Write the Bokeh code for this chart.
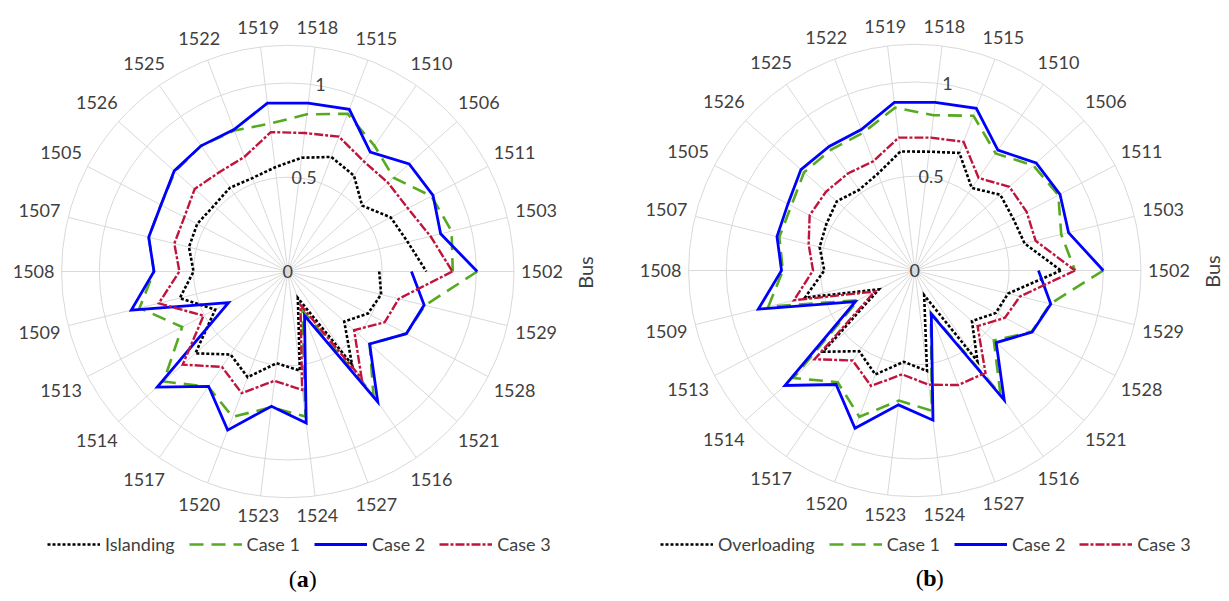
import math
from bokeh.plotting import figure
from bokeh.models import Range1d, Legend, LegendItem
from bokeh.core.properties import value
from bokeh.embed import file_html
from bokeh.resources import INLINE

# ---------------- data ----------------
# categories, clockwise starting at 1502 (3 o'clock)
buses = ["1502", "1529", "1528", "1521", "1516", "1527", "1524", "1523", "1520",
         "1517", "1514", "1513", "1509", "1508", "1507", "1505", "1526", "1525",
         "1522", "1519", "1518", "1515", "1510", "1506", "1511", "1503"]
# each trace: value at every bus in the order above, then the value where the
# trace comes back to bus 1502
islanding = [0.485, 0.51, 0.48, 0.40, 0.60, 0.15, 0.53, 0.49, 0.60, 0.535, 0.655, 0.435, 0.59,
             0.50, 0.54, 0.543, 0.525, 0.54, 0.53, 0.557, 0.608, 0.65, 0.618, 0.527, 0.617, 0.655, 0.735]
a_case1 = [1.005, 0.75, 0.71, 0.58, 0.80, 0.22, 0.775, 0.725, 0.825, 0.743, 0.88, 0.633, 0.81,
           0.71, 0.76, 0.76, 0.80, 0.81, 0.80, 0.79, 0.84, 0.895, 0.81, 0.75, 0.86, 0.895, 0.875]
a_case2 = [0.656, 0.745, 0.71, 0.58, 0.84, 0.25, 0.81, 0.72, 0.90, 0.74, 0.925, 0.355, 0.855,
           0.71, 0.76, 0.76, 0.805, 0.81, 0.805, 0.90, 0.90, 0.92, 0.77, 0.86, 0.87, 0.835, 1.005]
a_case3 = [0.873, 0.606, 0.58, 0.47, 0.69, 0.19, 0.633, 0.584, 0.69, 0.615, 0.745, 0.505, 0.705,
           0.575, 0.62, 0.62, 0.66, 0.64, 0.65, 0.745, 0.74, 0.765, 0.71, 0.71, 0.72, 0.78, 0.873]

overloading = [0.775, 0.51, 0.485, 0.405, 0.585, 0.14, 0.537, 0.488, 0.59, 0.52, 0.65, 0.215, 0.60,
               0.48, 0.52, 0.53, 0.553, 0.52, 0.55, 0.636, 0.635, 0.667, 0.532, 0.606, 0.59, 0.60, 0.775]
b_case1 = [1.0, 0.74, 0.70, 0.56, 0.80, 0.24, 0.75, 0.695, 0.83, 0.72, 0.86, 0.34, 0.80,
           0.70, 0.74, 0.74, 0.785, 0.78, 0.78, 0.87, 0.83, 0.878, 0.755, 0.84, 0.86, 0.80, 0.85]
b_case2 = [0.656, 0.743, 0.703, 0.577, 0.835, 0.247, 0.80, 0.718, 0.895, 0.735, 0.92, 0.356, 0.855,
           0.707, 0.753, 0.76, 0.807, 0.80, 0.80, 0.898, 0.898, 0.92, 0.776, 0.86, 0.87, 0.84, 1.0]
b_case3 = [0.85, 0.575, 0.54, 0.445, 0.66, 0.65, 0.61, 0.555, 0.655, 0.58, 0.71, 0.24, 0.66,
           0.54, 0.58, 0.63, 0.63, 0.625, 0.62, 0.71, 0.71, 0.73, 0.596, 0.67, 0.67, 0.66, 0.85]

value_ticks = [0, 0.5, 1]
value_tick_labels = ["0", "0.5", "1"]
ring_values = [0.5, 1.0, 1.2]
r_max = 1.2
axis_title = "Bus"

# ---------------- layout / style ----------------
W, H = 1226, 598
PX = 188.5            # pixels per unit value
FONT = "Lato"
TXT = "#404040"
GRID = "#d9d9d9"
styles = [
    dict(color="#000000", line_width=2.6, line_dash="3 2"),
    dict(color="#55aa1f", line_width=2.6, line_dash="14 8"),
    dict(color="#0000ff", line_width=2.8, line_dash="solid"),
    dict(color="#c0143c", line_width=2.4, line_dash="9 2 3 2"),
]

p = figure(width=W, height=H, output_backend="svg", toolbar_location=None,
           x_range=Range1d(0, W), y_range=Range1d(H, 0),
           min_border=0, outline_line_color=None)
p.axis.visible = False
p.grid.visible = False
p.background_fill_color = "white"
p.border_fill_color = "white"

n = len(buses)
angles = [2 * math.pi * k / n for k in range(n)]


def radar(cx, cy, traces, labels, leg_x, letter):
    # rings
    for rv in ring_values:
        p.circle(x=[cx], y=[cy], radius=rv * PX, fill_color=None,
                 line_color=GRID, line_width=1)
    # spokes
    xs = [[cx, cx + r_max * PX * math.cos(a)] for a in angles]
    ys = [[cy, cy + r_max * PX * math.sin(a)] for a in angles]
    p.multi_line(xs=xs, ys=ys, line_color=GRID, line_width=1)
    # category labels
    lx, ly = [], []
    for a in angles:
        c, s = math.cos(a), math.sin(a)
        rr = r_max * PX + 8 + 20 * abs(c) + 9 * abs(s)
        lx.append(cx + rr * c)
        ly.append(cy + rr * s)
    p.text(x=lx, y=ly, text=buses, text_font=value(FONT), text_font_size="18px",
           text_color=TXT, text_align="center", text_baseline="middle")
    # value axis labels along the 1518 spoke
    a0 = angles[buses.index("1518")]
    tx = [cx + v * PX * math.cos(a0) + 10 * v for v in value_ticks]
    ty = [cy + v * PX * math.sin(a0) for v in value_ticks]
    p.text(x=tx, y=ty, text=value_tick_labels, text_font=value(FONT),
           text_font_size="18px", text_color=TXT, text_align="center",
           text_baseline="middle")
    # axis title
    p.text(x=[cx + 297], y=[cy + 1], text=[axis_title], angle=math.pi / 2,
           text_font=value(FONT), text_font_size="20px", text_color=TXT,
           text_align="center", text_baseline="middle")
    # traces
    items = []
    for vals, lab, st in zip(traces, labels, styles):
        ang = angles + [2 * math.pi]
        x = [cx + v * PX * math.cos(a) for v, a in zip(vals, ang)]
        y = [cy + v * PX * math.sin(a) for v, a in zip(vals, ang)]
        r = p.line(x=x, y=y, line_color=st["color"], line_width=st["line_width"],
                   line_dash=st["line_dash"], line_join="miter")
        items.append(LegendItem(label=lab, renderers=[r]))
    leg = Legend(items=items, location=(leg_x, H - 555), orientation="horizontal",
                 glyph_width=53, glyph_height=20, label_height=20,
                 label_standoff=5, spacing=14, padding=0, margin=0,
                 border_line_alpha=0, background_fill_alpha=0,
                 label_text_font=FONT, label_text_font_size="18px",
                 label_text_color=TXT)
    p.add_layout(leg)
    # sub caption
    cap_y = cy + 307
    p.text(x=[cx + 9], y=[cap_y], text=["("], text_font=value("Liberation Serif"),
           text_font_size="24px", text_color="black", text_align="right",
           text_baseline="middle")
    p.text(x=[cx + 15], y=[cap_y], text=[letter], text_font=value("Liberation Serif"),
           text_font_size="24px", text_font_style="bold", text_color="black",
           text_align="center", text_baseline="middle")
    p.text(x=[cx + 21], y=[cap_y], text=[")"], text_font=value("Liberation Serif"),
           text_font_size="24px", text_color="black", text_align="left",
           text_baseline="middle")


radar(287.3, 271.0, [islanding, a_case1, a_case2, a_case3],
      ["Islanding", "Case 1", "Case 2", "Case 3"], 47, "a")
radar(914.3, 270.0, [overloading, b_case1, b_case2, b_case3],
      ["Overloading", "Case 1", "Case 2", "Case 3"], 660, "b")

open("out.html", "w").write(file_html(p, INLINE))
